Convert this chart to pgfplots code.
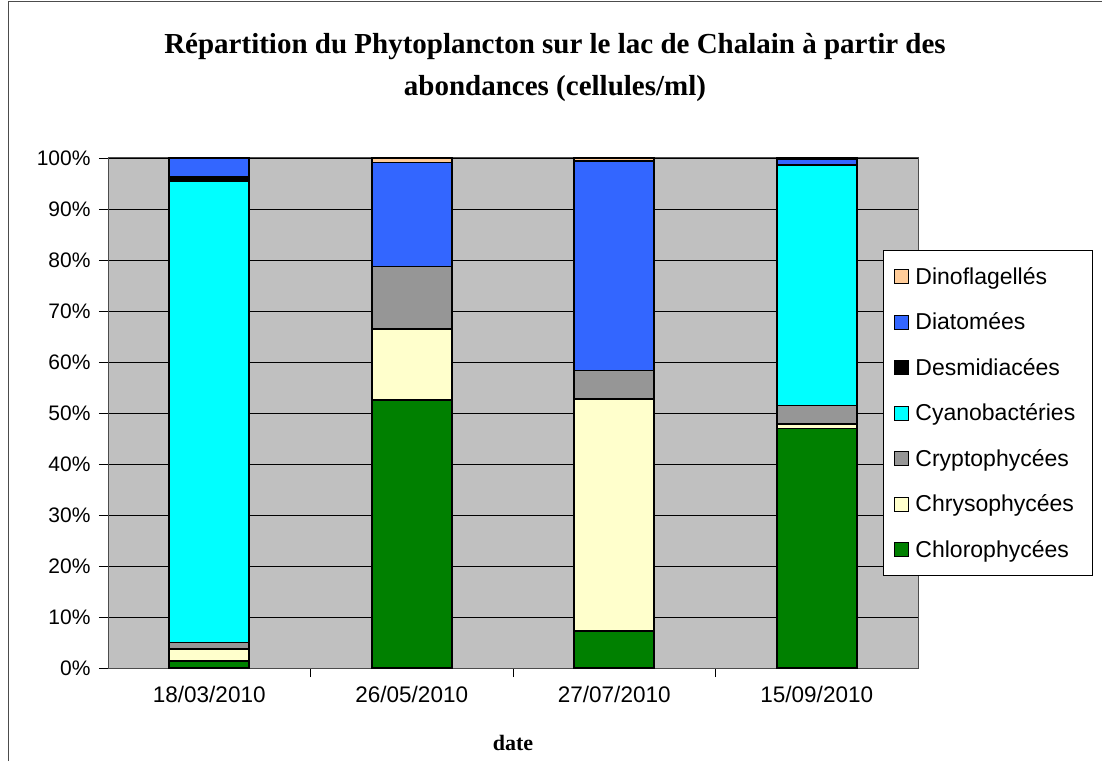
\documentclass[border=0pt]{standalone}
\usepackage{pgfplots}
\pgfplotsset{compat=1.18}
\usepackage{fontspec}
\setmainfont{Liberation Sans}
\newfontfamily\serif{Liberation Serif}
\definecolor{chloro}{HTML}{008000}
\definecolor{chryso}{HTML}{FFFFCC}
\definecolor{crypto}{HTML}{969696}
\definecolor{cyano}{HTML}{00FFFF}
\definecolor{desmid}{HTML}{000000}
\definecolor{diatom}{HTML}{3366FF}
\definecolor{dino}{HTML}{FFCC99}
\definecolor{plotbg}{HTML}{C0C0C0}

\begin{document}
\begin{tikzpicture}
\path[use as bounding box] (0pt,0pt) rectangle (1102pt,761pt);
\draw[gray!60!black, line width=1pt] (8pt,0pt) -- (8pt,759.5pt) -- (1102pt,759.5pt);

\node[font=\serif\bfseries\fontsize{29}{42}\selectfont, align=center]
  at (555pt,693pt) {Répartition du Phytoplancton sur le lac de Chalain à partir des\\abondances (cellules/ml)};

\begin{axis}[
  at={(108pt,93pt)}, anchor=south west,
  scale only axis, width=810pt, height=510pt,
  ybar stacked, bar width=0.395,
  xmin=-0.5, xmax=3.5, ymin=0, ymax=100,
  tick pos=left,
  xtick={0.5,1.5,2.5},
  xticklabels={},
  extra x ticks={0,1,2,3},
  extra x tick labels={18/03/2010,26/05/2010,27/07/2010,15/09/2010},
  extra x tick style={major tick length=0pt, grid=none,
    xticklabel style={font=\fontsize{22.5}{26}\selectfont, yshift=-15pt}},
  ytick={0,10,...,100},
  yticklabel={\pgfmathprintnumber{\tick}\%},
  /pgf/number format/assume math mode=true,
  tick align=outside, major tick length=9pt,
  tick style={draw=black, line width=0.8pt},
  ymajorgrids, major grid style={draw=black, line width=0.8pt},
  axis background/.style={fill=plotbg},
  axis line style={draw=gray!60!black, line width=1pt},
  tick label style={font=\fontsize{21}{25}\selectfont},
  yticklabel style={xshift=-5pt},
  xlabel={date},
  xlabel style={font=\serif\bfseries\fontsize{22}{26}\selectfont, yshift=-16pt},
  reverse legend,
  legend style={at={(0.957,0.8196)}, anchor=north west,
    font=\fontsize{23}{27}\selectfont, draw=black, line width=1pt,
    fill=white, row sep=23pt, inner xsep=10pt, inner ysep=15pt,
    cells={anchor=west}, nodes={inner xsep=7pt}},
  legend image code/.code={\draw[#1, draw=black, line width=0.8pt] (0pt,-7pt) rectangle (14pt,7pt);},
]
\addplot[fill=chloro, draw=black, line width=1.6pt] coordinates {(0,1.4) (1,52.5) (2,7.3) (3,47.0)};
\addlegendentry{Chlorophycées}
\addplot[fill=chryso, draw=black, line width=1.6pt] coordinates {(0,2.3) (1,14.0) (2,45.4) (3,0.8)};
\addlegendentry{Chrysophycées}
\addplot[fill=crypto, draw=black, line width=1.6pt] coordinates {(0,1.3) (1,12.2) (2,5.6) (3,3.7)};
\addlegendentry{Cryptophycées}
\addplot[fill=cyano, draw=black, line width=1.6pt] coordinates {(0,90.5) (1,0) (2,0) (3,47.1)};
\addlegendentry{Cyanobactéries}
\addplot[fill=desmid, draw=black, line width=1.6pt] coordinates {(0,0.8) (1,0) (2,0) (3,0)};
\addlegendentry{Desmidiacées}
\addplot[fill=diatom, draw=black, line width=1.6pt] coordinates {(0,3.7) (1,20.4) (2,41.1) (3,1.2)};
\addlegendentry{Diatomées}
\addplot[fill=dino, draw=black, line width=1.6pt] coordinates {(0,0) (1,0.9) (2,0.6) (3,0.2)};
\addlegendentry{Dinoflagellés}
\end{axis}
\end{tikzpicture}
\end{document}
